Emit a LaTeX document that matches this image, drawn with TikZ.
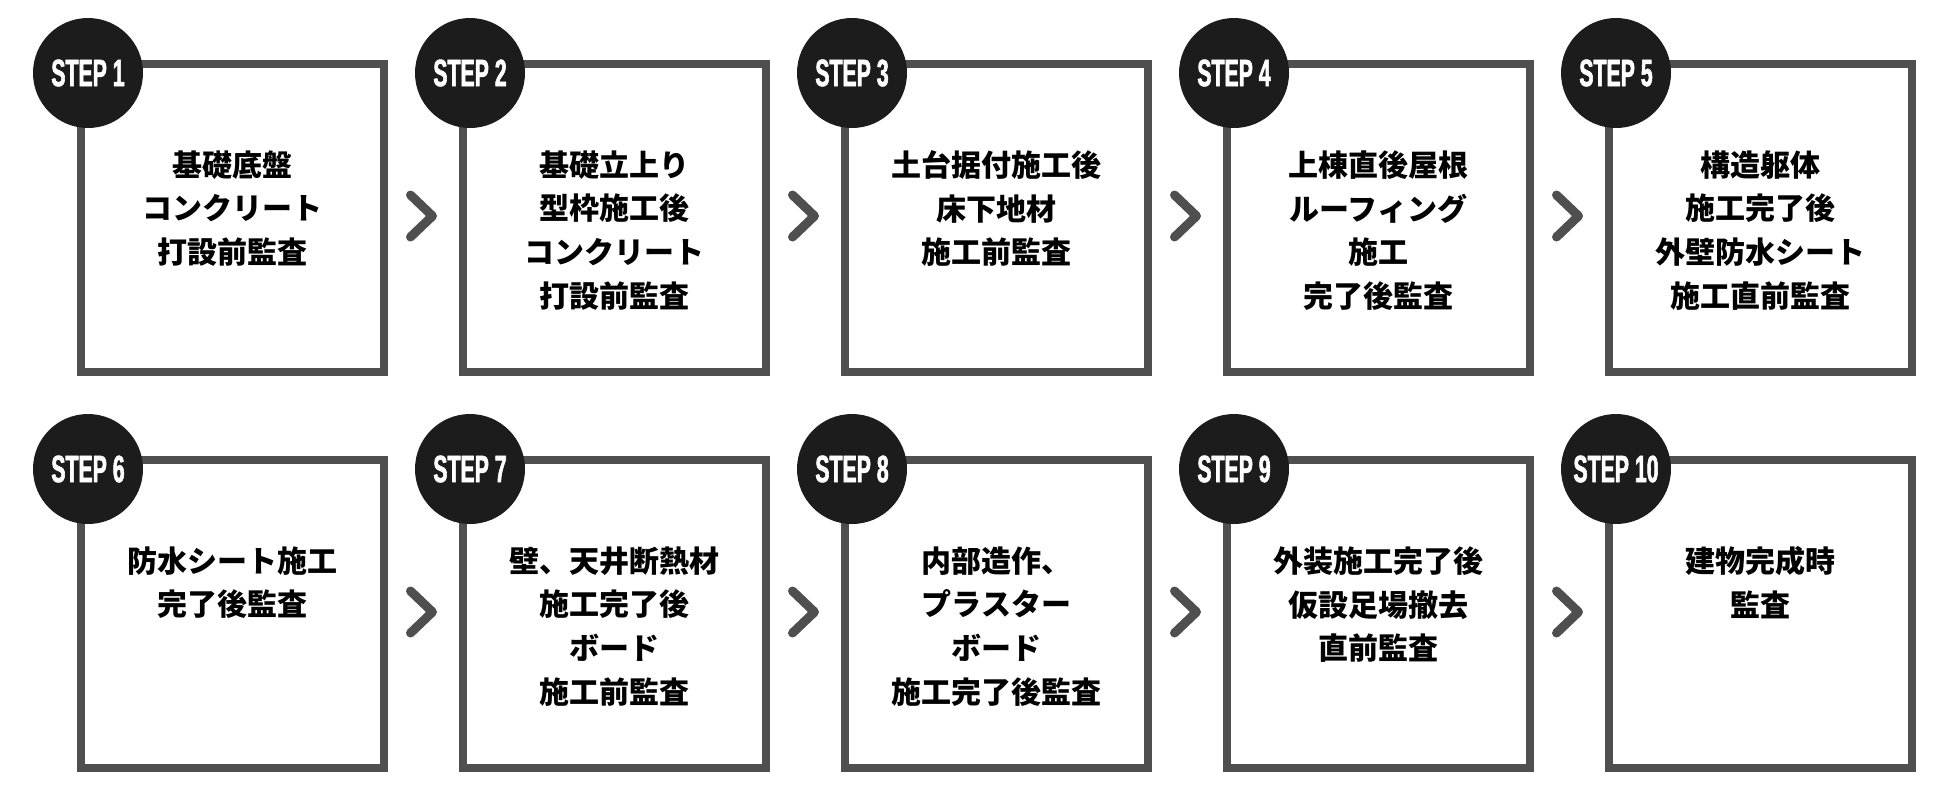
\documentclass[tikz,border=0pt]{standalone}
\usepackage{fontspec}
\newfontfamily\jpfont{Noto Sans CJK JP}
\newfontfamily\stepfont{Liberation Sans}[FakeStretch=0.56,FakeBold=1.5]
\usetikzlibrary{positioning,calc}
\definecolor{boxgray}{HTML}{4F4F4F}
\definecolor{badgeblack}{HTML}{1C1C1C}
\tikzset{
  stepbox/.style={draw=boxgray,line width=4pt,minimum width=151.5pt,minimum height=154pt,inner sep=0pt},
  badge/.style={circle,fill=badgeblack,minimum size=55pt,inner sep=0pt,text=white,font=\stepfont\bfseries\fontsize{19pt}{19pt}\selectfont},
  steptext/.style={anchor=north,align=center,inner sep=0pt,font=\jpfont\bfseries\fontsize{15pt}{21.9pt}\selectfont},
  chevron/.style={draw=boxgray,line width=4.5pt,line cap=round,line join=round}
}
\begin{document}
\begin{tikzpicture}[x=0.5pt,y=-0.5pt]
\useasboundingbox (0,0) rectangle (1960,800);
% top row
\node[stepbox] (s1) at (232.5,218) {};
\node[stepbox] (s2) at (614.5,218) {};
\node[stepbox] (s3) at (996.5,218) {};
\node[stepbox] (s4) at (1378.5,218) {};
\node[stepbox] (s5) at (1760.5,218) {};
% bottom row
\node[stepbox] (s6) at (232.5,614) {};
\node[stepbox] (s7) at (614.5,614) {};
\node[stepbox] (s8) at (996.5,614) {};
\node[stepbox] (s9) at (1378.5,614) {};
\node[stepbox] (s10) at (1760.5,614) {};
% badges
\node[badge] (c1) at ($(s1.north west)+(11,13)$) {STEP 1};
\node[badge] (c2) at ($(s2.north west)+(11,13)$) {STEP 2};
\node[badge] (c3) at ($(s3.north west)+(11,13)$) {STEP 3};
\node[badge] (c4) at ($(s4.north west)+(11,13)$) {STEP 4};
\node[badge] (c5) at ($(s5.north west)+(11,13)$) {STEP 5};
\node[badge] (c6) at ($(s6.north west)+(11,13)$) {STEP 6};
\node[badge] (c7) at ($(s7.north west)+(11,13)$) {STEP 7};
\node[badge] (c8) at ($(s8.north west)+(11,13)$) {STEP 8};
\node[badge] (c9) at ($(s9.north west)+(11,13)$) {STEP 9};
\node[badge] (c10) at ($(s10.north west)+(11,13)$) {STEP 10};
% texts
\node[steptext] (t1) at ($(s1.north)+(0,90)$) {基礎底盤\\コンクリート\\打設前監査};
\node[steptext] (t2) at ($(s2.north)+(0,90)$) {基礎立上り\\型枠施工後\\コンクリート\\打設前監査};
\node[steptext] (t3) at ($(s3.north)+(0,90)$) {土台据付施工後\\床下地材\\施工前監査};
\node[steptext] (t4) at ($(s4.north)+(0,90)$) {上棟直後屋根\\ルーフィング\\施工\\完了後監査};
\node[steptext] (t5) at ($(s5.north)+(0,90)$) {構造躯体\\施工完了後\\外壁防水シート\\施工直前監査};
\node[steptext] (t6) at ($(s6.north)+(0,90)$) {防水シート施工\\完了後監査};
\node[steptext] (t7) at ($(s7.north)+(0,90)$) {壁、天井断熱材\\施工完了後\\ボード\\施工前監査};
\node[steptext] (t8) at ($(s8.north)+(0,90)$) {内部造作、\\プラスター\\ボード\\施工完了後監査};
\node[steptext] (t9) at ($(s9.north)+(0,90)$) {外装施工完了後\\仮設足場撤去\\直前監査};
\node[steptext] (t10) at ($(s10.north)+(0,90)$) {建物完成時\\監査};
% chevrons
\coordinate (a1) at ($(s1.east)!0.5!(s2.west)+(-2,-2)$);
\coordinate (a2) at ($(s2.east)!0.5!(s3.west)+(-2,-2)$);
\coordinate (a3) at ($(s3.east)!0.5!(s4.west)+(-2,-2)$);
\coordinate (a4) at ($(s4.east)!0.5!(s5.west)+(-2,-2)$);
\coordinate (a6) at ($(s6.east)!0.5!(s7.west)+(-2,-2)$);
\coordinate (a7) at ($(s7.east)!0.5!(s8.west)+(-2,-2)$);
\coordinate (a8) at ($(s8.east)!0.5!(s9.west)+(-2,-2)$);
\coordinate (a9) at ($(s9.east)!0.5!(s10.west)+(-2,-2)$);
\draw[chevron] ($(a1)+(-11,-21)$) -- ($(a1)+(11,0)$) -- ($(a1)+(-11,21)$);
\draw[chevron] ($(a2)+(-11,-21)$) -- ($(a2)+(11,0)$) -- ($(a2)+(-11,21)$);
\draw[chevron] ($(a3)+(-11,-21)$) -- ($(a3)+(11,0)$) -- ($(a3)+(-11,21)$);
\draw[chevron] ($(a4)+(-11,-21)$) -- ($(a4)+(11,0)$) -- ($(a4)+(-11,21)$);
\draw[chevron] ($(a6)+(-11,-21)$) -- ($(a6)+(11,0)$) -- ($(a6)+(-11,21)$);
\draw[chevron] ($(a7)+(-11,-21)$) -- ($(a7)+(11,0)$) -- ($(a7)+(-11,21)$);
\draw[chevron] ($(a8)+(-11,-21)$) -- ($(a8)+(11,0)$) -- ($(a8)+(-11,21)$);
\draw[chevron] ($(a9)+(-11,-21)$) -- ($(a9)+(11,0)$) -- ($(a9)+(-11,21)$);
\end{tikzpicture}
\end{document}
